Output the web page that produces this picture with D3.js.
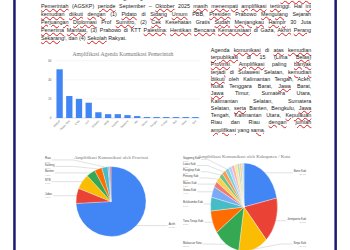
<!DOCTYPE html>
<html>
<head>
<meta charset="utf-8">
<script src="https://cdn.jsdelivr.net/npm/d3@7"></script>
<style>
  html, body { margin: 0; padding: 0; background: #fff; }
  #page { position: relative; width: 350px; height: 250px; overflow: hidden; background: #fff; }
  #page svg { position: absolute; left: 0; top: 0; }
  .ln {
    position: absolute;
    font-family: "Liberation Sans", Arial, sans-serif;
    font-size: 5.4px;
    line-height: 6px;
    color: #222;
    white-space: nowrap;
    text-align: justify;
    text-align-last: justify;
  }
  .ln.last { text-align-last: left; }
  .sp {
    text-decoration: underline wavy #e01b1b;
    text-decoration-thickness: 0.7px;
    text-underline-offset: 0.4px;
  }
</style>
</head>
<body>
<div id="page"></div>
<script>

// bar chart
var barTitle = 'Amplifikasi Agenda Komunikasi Pemerintah';
var barCategories = ['AGSKP', 'Pidato PBB', 'CKG', 'KTT', 'Sekolah', 'MBG', 'Kopdes', 'Swasem', 'Hilir', 'Danan', 'Pangan', 'Energi', 'Gizi', 'Desa', 'Tani'];
var barValues = [51, 23, 20, 16, 6, 4, 4, 3, 2, 1, 1, 1, 1, 1, 1];
var barTicks = [0, 20, 40, 60];

// province pie
var provTitle = 'Amplifikasi Komunikasi oleh Provinsi';
var provLabels = ['Aceh', 'Jabar', 'NTB', 'Banten', 'Kalteng', 'Riau', 'Bengkulu', 'Kaltara'];
var provValues = [106, 10, 10, 6, 5, 4, 1, 1];

// kabupaten / kota pie
var kabTitle = 'Amplifikasi Komunikasi oleh Kabupaten / Kota';
var kabLabels = ['Bone Kab', 'Jeneponto Kab', 'Sinjai Kab', 'Makassar Kota', 'Tana Toraja Kab', 'Bulukumba Kab', 'Gowa Kab', 'Maros Kab', 'Pinrang Kab', 'Pangkep Kab', 'Luwu Kab', 'Soppeng Kab', 'Barru Kab', 'Wajo Kab', 'Takalar Kab', 'Bantaeng Kab', 'Enrekang Kab', 'Selayar Kab'];
var kabValues = [60, 46, 39, 35, 23, 14, 11, 6, 6, 5, 5, 5, 4, 4, 4, 3, 3, 3];

// document text, ~word~ = spell-check underline
var paraTop = [
  'Berdasarkan hasil monitoring, agenda Aksi Gerakan Serentak Komunikasi ~Kementerian~',
  '~Pemerintah~ (AGSKP) ~periode~ September \u2013 ~Oktober~ 2025 ~masih~ ~menempati~ ~amplifikasi~ ~tertinggi~. Hal ~ini~',
  '~kemudian~ ~diikuti~ ~dengan~ (1) ~Pidato~ di ~Sidang~ ~Umum~ PBB, ~Presiden~ Prabowo ~Mengulang~ Sejarah',
  '~Perjuangan~ ~Diplomasi~ Prof ~Sumitro~, (2) ~Cek~ Kesehatan Gratis ~Sudah~ ~Menjangkau~ ~Hampir~ 30 Juta',
  '~Penerima~ ~Manfaat~, (3) Prabowo di KTT ~Palestina~: ~Hentikan~ ~Bencana~ ~Kemanusiaan~ di Gaza, ~Akhiri~ ~Perang~',
  '~Sekarang~!, dan (4) ~Sekolah~ Rakyat.'
];
var paraRight = [
  'Agenda ~komunikasi~ di ~atas~ ~kemudian~',
  '~terpublikasi~ di 15 (Lima ~Belas~)',
  '~Provinsi~. ~Amplifikasi~ paling ~banyak~',
  '~terjadi~ di Sulawesi Selatan, ~kemudian~',
  '~diikuti~ oleh Kalimantan Tengah, Aceh,',
  'Nusa Tenggara Barat, ~Jawa~ Barat,',
  '~Jawa~ Timur, Sumatera Utara,',
  'Kalimantan Selatan, Sumatera',
  'Selatan, ~serta~ Banten, Bengkulu, ~Jawa~',
  'Tengah, Kalimantan Utara, ~Kepulauan~',
  'Riau dan Riau ~dengan~ ~jumlah~',
  '~amplifikasi~ yang ~sama~.'
];

var colors = ['#4285f4', '#ea4335', '#fbbc04', '#34a853', '#ff6d01', '#46bdc6', '#7baaf7', '#f07b72',
  '#fcd04f', '#71c287', '#ff994d', '#7ed1d7', '#b3cefb', '#f7b4ae', '#fde49b', '#aedcba', '#ffc599', '#b5e5e9'];

var page = d3.select('#page');
var svg = page.append('svg').attr('width', 350).attr('height', 250);

// page borders
svg.append('rect').attr('x', 13.2).attr('y', 0).attr('width', 2.5).attr('height', 250).attr('fill', '#1a1a6e');
svg.append('rect').attr('x', 334.4).attr('y', 0).attr('width', 2.5).attr('height', 250).attr('fill', '#1a1a6e');

function drawLines(lines, left, width, y0, dy) {
  lines.forEach(function (ln, i) {
    var div = page.append('div')
      .attr('class', 'ln' + (i === lines.length - 1 ? ' last' : ''))
      .style('left', left + 'px')
      .style('top', (y0 + i * dy - 3) + 'px')
      .style('width', width + 'px');
    ln.split(/(~[^~]+~)/).filter(function (s) { return s; }).forEach(function (s) {
      if (s[0] === '~') div.append('span').attr('class', 'sp').text(s.slice(1, -1));
      else div.append('span').text(s);
    });
  });
}

drawLines(paraTop, 41, 270, -1.6, 7.85);
drawLines(paraRight, 210.8, 100.5, 49.8, 7.25);

/* ------------------------------------ */
// bar chart

var x = d3.scaleBand()
  .domain(barCategories)
  .range([55, 200])
  .paddingInner(0.35)
  .paddingOuter(0.15);

var y = d3.scaleLinear()
  .domain([0, 60])
  .range([118, 60.7]);

var bar = svg.append('g');

bar.append('text')
  .attr('x', 123).attr('y', 55.9)
  .attr('text-anchor', 'middle')
  .attr('font-family', 'Liberation Serif, serif')
  .attr('font-size', 5.6)
  .attr('fill', '#777')
  .text(barTitle);

bar.selectAll('line.grid').data(barTicks).enter().append('line')
  .attr('class', 'grid')
  .attr('x1', 55).attr('x2', 200)
  .attr('y1', function (d) { return y(d); })
  .attr('y2', function (d) { return y(d); })
  .attr('stroke', function (d) { return d === 0 ? '#b8b8b8' : '#ececec'; })
  .attr('stroke-width', 0.5);

bar.selectAll('text.tick').data(barTicks).enter().append('text')
  .attr('class', 'tick')
  .attr('x', 51.5)
  .attr('y', function (d) { return y(d) + 1; })
  .attr('text-anchor', 'end')
  .attr('font-family', 'Liberation Sans, Arial, sans-serif')
  .attr('font-size', 3)
  .attr('fill', '#666')
  .text(function (d) { return d; });

bar.selectAll('rect').data(barValues).enter().append('rect')
  .attr('x', function (d, i) { return x(barCategories[i]); })
  .attr('y', function (d) { return y(d); })
  .attr('width', x.bandwidth())
  .attr('height', function (d) { return y(0) - y(d); })
  .attr('fill', '#4285f4');

bar.selectAll('text.cat').data(barCategories).enter().append('text')
  .attr('class', 'cat')
  .attr('transform', function (d) {
    return 'translate(' + (x(d) + x.bandwidth() / 2 + 1) + ',121.2) rotate(-45)';
  })
  .attr('text-anchor', 'end')
  .attr('font-family', 'Liberation Sans, Arial, sans-serif')
  .attr('font-size', 2.6)
  .attr('fill', '#666')
  .text(function (d) { return d; });

/* ------------------------------------ */
// pies

function drawPie(o) {
  var data = o.values.map(function (v, i) { return {label: o.labels[i], v: v, i: i}; });
  var arcs = d3.pie().sort(null).value(function (d) { return d.v; })(data);
  var total = d3.sum(o.values);
  var k = o.ry / o.rx;
  var g = svg.append('g');

  g.append('text')
    .attr('x', o.cx).attr('y', o.titleY)
    .attr('text-anchor', 'middle')
    .attr('font-family', 'Liberation Serif, serif')
    .attr('font-size', 4.8)
    .attr('fill', '#777')
    .text(o.title);

  var arc = d3.arc().innerRadius(0).outerRadius(o.rx);
  g.append('g')
    .attr('transform', 'translate(' + o.cx + ',' + o.cy + ') scale(1,' + k + ')')
    .selectAll('path').data(arcs).enter().append('path')
    .attr('d', arc)
    .attr('fill', function (d) { return colors[d.data.i % colors.length]; })
    .attr('stroke', '#fff')
    .attr('stroke-width', 0.3);

  // labels
  var labs = arcs.filter(function (a) { return a.value / total >= 0.015; }).map(function (a) {
    var m = (a.startAngle + a.endAngle) / 2;
    var ex = o.cx + o.rx * Math.sin(m), ey = o.cy - o.ry * Math.cos(m);
    return {a: a, side: Math.sin(m) >= 0 ? 1 : -1, ex: ex, ey: ey, y: ey};
  });
  [-1, 1].forEach(function (side) {
    var s = labs.filter(function (l) { return l.side === side; })
      .sort(function (p, q) { return q.y - p.y; });
    s.forEach(function (l, i) {
      l.y = Math.min(l.y, o.maxY);
      if (i > 0) l.y = Math.min(l.y, s[i - 1].y - o.gap);
    });
  });

  labs.forEach(function (l) {
    var tx = l.side < 0 ? o.leftX : o.rightX;
    var anchor = l.side < 0 ? 'start' : 'end';
    var name = g.append('text')
      .attr('x', tx).attr('y', l.y - 0.5)
      .attr('text-anchor', anchor)
      .attr('font-family', 'Liberation Sans, Arial, sans-serif')
      .attr('font-size', 2.8)
      .attr('fill', '#444')
      .text(l.a.data.label);
    g.append('text')
      .attr('x', tx).attr('y', l.y + 2.6)
      .attr('text-anchor', anchor)
      .attr('font-family', 'Liberation Sans, Arial, sans-serif')
      .attr('font-size', 2.3)
      .attr('fill', '#aaa')
      .text(d3.format('.1%')(l.a.value / total));
    var w = name.node().getComputedTextLength();
    var x0 = l.side < 0 ? tx + w + 1 : tx - w - 1;
    var knee = l.side < 0 ? Math.min(o.cx - o.rx - 3, l.ex - 1) : Math.max(o.cx + o.rx + 3, l.ex + 1);
    g.append('polyline')
      .attr('points', [[x0, l.y], [knee, l.y], [l.ex, l.ey]].join(' '))
      .attr('fill', 'none')
      .attr('stroke', '#a8a8a8')
      .attr('stroke-width', 0.35);
  });
}

drawPie({
  title: provTitle, labels: provLabels, values: provValues,
  cx: 111, cy: 201.5, rx: 35, ry: 35, titleY: 158.6,
  leftX: 45, rightX: 175, gap: 6.5, maxY: 240
});

drawPie({
  title: kabTitle, labels: kabLabels, values: kabValues,
  cx: 244, cy: 207, rx: 33.5, ry: 44, titleY: 157.6,
  leftX: 183, rightX: 306, gap: 6.2, maxY: 244
});

</script>
</body>
</html>
